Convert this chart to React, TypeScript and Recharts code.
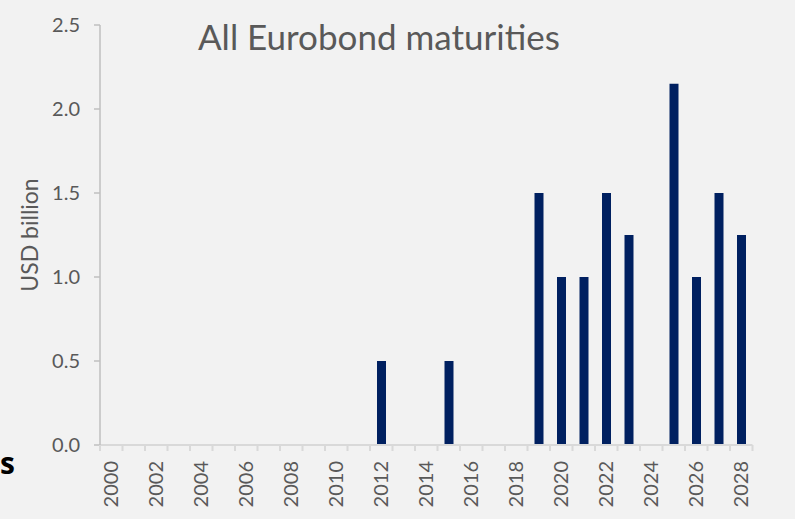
import React from "react";
import { BarChart, Bar, XAxis, YAxis } from "recharts";

// Eurobond maturity profile, USD billion per year

const years = [
  "2000", "2001", "2002", "2003", "2004", "2005", "2006", "2007", "2008", "2009",
  "2010", "2011", "2012", "2013", "2014", "2015", "2016", "2017", "2018", "2019",
  "2020", "2021", "2022", "2023", "2024", "2025", "2026", "2027", "2028",
];
const maturities = [
  0, 0, 0, 0, 0, 0, 0, 0, 0, 0,
  0, 0, 0.5, 0, 0, 0.5, 0, 0, 0, 1.5,
  1.0, 1.0, 1.5, 1.25, 0, 2.15, 1.0, 1.5, 1.25,
];
const yTicks = [0, 0.5, 1.0, 1.5, 2.0, 2.5];

const data = years.map((year, i) => ({ year, value: maturities[i] }));

const W = 795;
const H = 519;
const PLOT_LEFT = 100;
const PLOT_RIGHT = 752.5;
const PLOT_TOP = 25;
const PLOT_BOTTOM = 445;
const BAND = (PLOT_RIGHT - PLOT_LEFT) / years.length;

const FONT = "Lato, 'Open Sans', sans-serif";
const TEXT = "#595959";
const AXIS = "#d9d9d9";

function YearTick(props: any) {
  const { x, y, payload, index } = props;
  const yr = Number(payload.value);
  const isLast = index === years.length - 1;
  return (
    <g>
      <line x1={x - BAND / 2} x2={x - BAND / 2} y1={y} y2={y + 6} stroke={AXIS} strokeWidth={2} />
      {isLast && (
        <line x1={x + BAND / 2} x2={x + BAND / 2} y1={y} y2={y + 6} stroke={AXIS} strokeWidth={2} />
      )}
      {yr % 2 === 0 && (
        <text
          x={x}
          y={y + 16}
          dy="0.35em"
          textAnchor="end"
          transform={`rotate(-90, ${x}, ${y + 16})`}
          fill={TEXT}
          fontSize={20}
          fontFamily={FONT}
        >
          {payload.value}
        </text>
      )}
    </g>
  );
}

export default function App() {
  return (
    <div style={{ position: "fixed", left: 0, top: 0, width: W, height: H, background: "#f2f2f2", overflow: "hidden" }}>
      <BarChart
        width={W}
        height={H}
        data={data}
        margin={{ top: PLOT_TOP, right: W - PLOT_RIGHT, left: 0, bottom: 0 }}
        barCategoryGap={0}
      >
        <XAxis
          dataKey="year"
          interval={0}
          height={H - PLOT_BOTTOM}
          tickSize={0}
          tickMargin={0}
          tickLine={false}
          axisLine={{ stroke: AXIS, strokeWidth: 2 }}
          tick={<YearTick />}
        />
        <YAxis
          width={PLOT_LEFT}
          domain={[0, 2.5]}
          ticks={yTicks}
          interval={0}
          tickFormatter={(v: number) => v.toFixed(1)}
          tickSize={6}
          tickMargin={14}
          axisLine={{ stroke: "#bfbfbf", strokeWidth: 1.5 }}
          tickLine={{ stroke: "#bfbfbf", strokeWidth: 1.5 }}
          tick={{ fill: TEXT, fontSize: 20, fontFamily: FONT }}
        />
        <Bar dataKey="value" fill="#002060" barSize={9} isAnimationActive={false} />
      </BarChart>
      <div
        style={{
          position: "absolute",
          left: 198,
          top: 19,
          fontFamily: FONT,
          fontSize: 35,
          color: TEXT,
          whiteSpace: "nowrap",
          lineHeight: 1,
        }}
      >
        All Eurobond maturities
      </div>
      <div
        style={{
          position: "absolute",
          left: 29,
          top: 235,
          transform: "translate(-50%, -50%) rotate(-90deg)",
          fontFamily: FONT,
          fontSize: 23,
          color: TEXT,
          whiteSpace: "nowrap",
          lineHeight: 1,
        }}
      >
        USD billion
      </div>
      <div
        style={{
          position: "absolute",
          left: 0,
          top: 448,
          fontFamily: "'Open Sans', sans-serif",
          fontWeight: 700,
          fontSize: 30,
          color: "#000",
          lineHeight: 1,
        }}
      >
        s
      </div>
    </div>
  );
}
